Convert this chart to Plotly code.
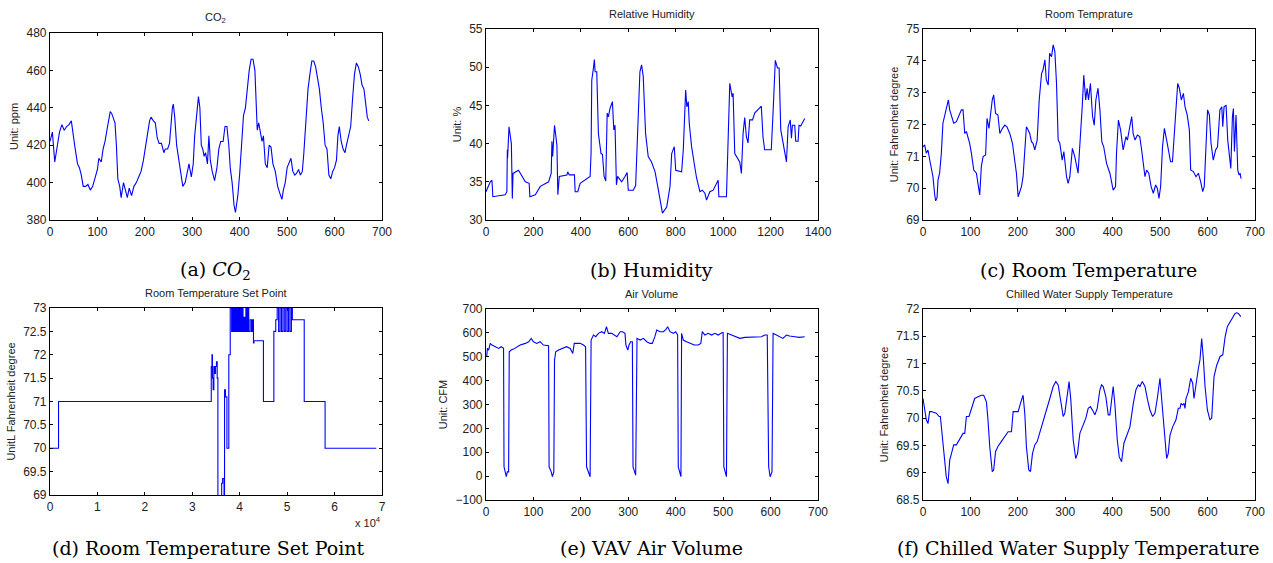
import plotly.graph_objects as go

W, H = 1273, 563
BLUE = '#0000ff'
SANS = 'Liberation Sans, Arial, sans-serif'
SERIF = 'DejaVu Serif, serif'

# (a) CO2
co2_t = [0, 5, 10, 15, 20, 25, 30, 35, 40, 45, 48, 52, 55, 58, 62, 66, 70, 75, 80, 85, 90, 95,
         100, 103, 108, 112, 116, 120, 124, 127, 130, 134, 137, 140, 143, 147, 150, 155, 160,
         163, 167, 172, 177, 182, 187, 192, 197, 200, 205, 210, 213, 218, 222, 226, 230, 235,
         240, 243, 248, 252, 255, 258, 260, 263, 267, 272, 276, 280, 285, 290, 293, 298, 302,
         305, 309, 313, 316, 319, 322, 325, 328, 332, 335, 338, 342, 347, 352, 356, 360, 365,
         369, 373, 377, 380, 384, 388, 391, 396, 400, 404, 408, 412, 416, 420, 424, 428, 432,
         434, 437, 440, 443, 447, 450, 454, 458, 462, 466, 470, 475, 480, 485, 489, 492, 496,
         500, 505, 508, 512, 516, 520, 524, 528, 532, 535, 540, 544, 548, 552, 556, 560, 564,
         568, 572, 576, 580, 584, 588, 592, 596, 600, 604, 607, 610, 614, 618, 622, 625, 630,
         634, 638, 642, 646, 650, 654, 658, 662, 666, 669, 672]
co2_ppm = [422, 427, 411, 420, 427, 431, 428, 430, 431, 433, 426, 420, 415, 410, 408, 404, 398,
           398, 399, 396, 398, 403, 407, 413, 411, 418, 422, 428, 434, 438, 437, 434, 432, 420,
           402, 398, 392, 400, 395, 392, 397, 393, 398, 400, 403, 406, 412, 418, 425, 433, 435,
           433, 432, 424, 421, 421, 416, 418, 418, 421, 432, 440, 442, 435, 420, 412, 405, 398,
           400, 406, 410, 403, 410, 425, 438, 446, 440, 420, 418, 414, 416, 410, 425, 412, 406,
           401, 408, 418, 422, 422, 430, 430, 420, 408, 400, 388, 384, 393, 405, 420, 436, 440,
           450, 460, 466, 466, 460, 445, 428, 432, 428, 422, 425, 410, 408, 420, 419, 410, 406,
           398, 394, 391, 396, 400, 408, 411, 413, 406, 404, 405, 407, 404, 406, 415, 432, 450,
           458, 465, 465, 462, 456, 450, 440, 432, 420, 418, 404, 402, 406, 408, 412, 425, 430,
           422, 418, 416, 420, 425, 430, 445, 458, 464, 462, 458, 452, 450, 442, 435, 433]

# (b) relative humidity
rh_t = [0, 18, 25, 29, 81, 88, 90, 91, 97, 107, 111, 114, 137, 166, 182, 185, 208, 229, 264,
        275, 278, 281, 289, 299, 303, 309, 341, 345, 351, 373, 376, 387, 397, 418, 439, 443,
        446, 453, 457, 460, 467, 474, 485, 491, 498, 505, 511, 516, 523, 533, 539, 544, 550,
        555, 572, 586, 595, 600, 621, 631, 642, 649, 656, 663, 673, 684, 698, 713, 727, 736,
        744, 762, 776, 783, 794, 800, 825, 832, 842, 847, 853, 857, 867, 878, 888, 902, 912,
        923, 930, 944, 958, 979, 982, 1014, 1028, 1038, 1042, 1049, 1070, 1077, 1084, 1091,
        1098, 1105, 1112, 1124, 1133, 1161, 1168, 1175, 1203, 1211, 1220, 1229, 1236, 1243,
        1260, 1267, 1274, 1283, 1288, 1292, 1302, 1306, 1316, 1320, 1327, 1344]
rh_pct = [33.7, 35.0, 35.2, 33.05, 33.3, 33.7, 39.2, 38.1, 42.2, 40.0, 32.8, 36.1, 36.5, 35.0,
          34.8, 33.05, 33.3, 34.4, 35.0, 36.1, 40.3, 38.3, 42.4, 39.8, 33.3, 35.7, 35.9, 36.3,
          35.9, 35.9, 33.7, 33.7, 34.8, 35.2, 35.7, 38.7, 48.3, 49.9, 51.0, 49.4, 49.4, 41.3,
          38.7, 38.6, 35.7, 35.1, 44.0, 43.5, 44.6, 45.5, 41.8, 42.4, 34.6, 35.7, 35.0, 35.7,
          36.2, 33.9, 33.9, 34.5, 43.5, 49.4, 50.3, 48.8, 41.3, 38.3, 37.6, 36.3, 33.9, 32.0,
          30.9, 31.7, 34.4, 38.7, 39.6, 36.5, 36.3, 39.2, 47.0, 44.8, 45.5, 42.7, 39.6, 37.4,
          35.5, 33.7, 33.9, 33.5, 32.6, 33.7, 33.9, 35.2, 33.05, 33.05, 47.9, 46.1, 46.6, 38.7,
          37.6, 36.1, 41.3, 43.4, 40.9, 40.1, 43.1, 43.1, 44.0, 44.9, 40.9, 39.2, 39.2, 44.4,
          50.9, 49.9, 49.9, 41.8, 38.7, 37.6, 42.2, 43.1, 40.7, 42.4, 42.4, 40.3, 40.3, 42.4,
          42.3, 43.3]

# (c) room temperature
rt_t = [0, 3.5, 7, 10.5, 14, 17.6, 21, 24.6, 26.7, 29.6, 31.7, 35, 38.7, 42, 45.7, 49, 53.5,
        56.3, 60, 64.7, 70.4, 76, 81, 84.4, 88, 91.5, 98.5, 102, 107, 112.6, 116, 119.6, 123,
        126.7, 132, 135, 139, 142, 146, 149, 153, 158, 162, 167.5, 172.4, 177, 183, 188.6,
        193.5, 197, 200.6, 204, 207.6, 211, 214.6, 218, 221.7, 225, 228.7, 232, 235.7, 240.7,
        245, 250, 253, 257, 260, 264, 267, 271, 274.5, 278, 281.5, 285, 288.5, 293.5, 297,
        302.6, 306, 309.6, 315, 320, 327, 330.7, 335.7, 339, 343, 346, 349, 353, 357.5, 361,
        364.5, 369, 373, 377, 381, 387, 394, 401, 406, 408, 412, 416.6, 422, 428, 431, 436,
        440, 443, 447, 452, 457, 461, 464.5, 468, 471.5, 476, 481, 485.6, 490.5, 494, 497.5,
        501, 505, 509, 513.7, 518.6, 522, 526, 530, 533.4, 537, 540.5, 544.7, 549, 552.4, 557,
        561.6, 564.4, 570, 575.6, 580.6, 585.5, 589.7, 593, 596.7, 600, 603.8, 607.3, 612, 617,
        621, 626, 630, 632, 634.8, 639, 642.5, 646, 649, 652.4, 654.5, 656.6, 660, 663.6,
        666.4, 668.5, 670.6]
rt_deg = [71.3, 71.36, 71.1, 71.2, 70.9, 70.6, 70.36, 69.8, 69.6, 69.7, 70.26, 70.47, 71.1,
          72.04, 72.3, 72.56, 72.77, 72.46, 72.3, 72.04, 72.09, 72.3, 72.46, 72.46, 71.72,
          71.78, 71.4, 71.1, 70.57, 70.47, 70.2, 69.79, 70.68, 70.99, 71.04, 72.19, 71.88,
          72.3, 72.77, 72.93, 72.35, 72.3, 71.72, 71.88, 71.98, 71.93, 71.72, 71.41, 70.88,
          70.47, 69.73, 69.89, 70.05, 70.36, 71.09, 71.93, 71.83, 71.72, 71.46, 71.41, 71.2,
          71.51, 72.77, 73.6, 73.71, 74.03, 73.4, 73.24, 74.24, 74.13, 74.5, 74.29, 73.3, 71.51,
          71.41, 70.88, 71.15, 70.36, 70.15, 70.36, 71.25, 70.99, 70.47, 71.3, 72.56, 73.55,
          72.77, 73.14, 72.77, 73.29, 72.25, 71.98, 72.77, 73.14, 72.46, 71.46, 71.3, 70.78,
          70.47, 69.94, 70.05, 71.1, 72.14, 71.83, 71.2, 71.62, 71.51, 71.93, 72.25, 71.72,
          71.51, 71.67, 71.62, 71.2, 70.68, 70.36, 70.57, 70.47, 70.05, 69.84, 70.1, 70.0,
          69.68, 70.05, 71.3, 71.88, 71.51, 71.1, 70.83, 70.83, 71.72, 72.56, 73.29, 73.14,
          72.77, 72.98, 72.56, 72.3, 71.83, 70.57, 70.52, 70.36, 70.47, 70.2, 69.89, 70.05,
          71.15, 72.46, 72.3, 71.41, 70.88, 71.2, 71.3, 72.46, 72.56, 71.93, 72.56, 72.6,
          71.51, 70.99, 70.62, 72.25, 72.5, 71.15, 72.3, 70.57, 70.41, 70.47, 70.3]

# (d) room temperature set point (step changes)
sp_t = [0, 1800, 34000, 34150, 34250, 34400, 34550, 34700, 34900, 35100, 35250, 35400,
        36200, 36400, 36700, 36800, 37000, 37300, 37700, 38000, 38300, 38500, 38700, 38900,
        39100, 39300, 39500, 39700, 39900, 40100, 40300, 40500, 40700, 40900, 41100, 41300,
        41500, 41700, 41900, 42200, 42500, 42700, 42900, 43000, 45000, 47200, 47600, 47900,
        48200, 48500, 48800, 49100, 49400, 49700, 50000, 50300, 50600, 50900, 51100, 53600,
        58000, 68800]
sp_deg = [70, 71, 71.75, 72, 71.5, 71.25, 71.75, 71.6, 71.75, 71.85, 71.5, 68.5,
          69.25, 69.35, 68.5, 71.25, 71.1, 70, 72, 73, 72.5, 73, 72.5, 73,
          72.5, 73, 72.5, 73, 72.5, 73, 72.5, 73, 72.5, 72.8, 72.5, 73,
          72.5, 73, 72.5, 72.75, 72.5, 72.75, 72.25, 72.3, 71, 72.5, 72.75, 73,
          72.5, 73, 72.5, 73, 72.5, 73, 72.5, 73, 72.5, 73, 72.75, 71,
          70, 70]

# (e) VAV air volume
av_t = [1.4, 3, 5.6, 9, 12.6, 19.6, 26.7, 32, 37, 38, 40.7, 42.8, 45, 47.7, 49, 53, 58, 65,
        72, 83, 90, 95.4, 100, 107, 114, 121, 128, 132, 133, 137.5, 140, 143, 144.5, 147, 153,
        163, 170, 177.5, 183, 186, 193.6, 198.5, 205.5, 210, 212, 216, 219.5, 221.6, 226.5,
        231.5, 237, 244, 249.7, 254, 258, 265, 271, 276, 283, 288, 293, 295, 299, 301.6, 305,
        308.6, 310, 313, 315.6, 318.4, 325, 332, 339, 346, 350.7, 356, 360, 367, 374, 379.5,
        383, 388, 395, 400, 404, 405.4, 407.5, 411, 412.4, 416, 423, 430, 439, 447.5, 453, 456,
        461.5, 468.5, 475.6, 482.6, 489.6, 498, 500, 501.5, 505, 507, 509, 517.6, 524.7, 535,
        546, 556, 566.7, 580.8, 587.8, 593, 596, 599, 603, 605.3, 612.3, 619.3, 626, 633.4,
        640, 651, 661, 672]
av_cfm = [500, 535, 528, 556, 549, 542, 535, 542, 535, 39, 18, -2.5, 18, 18, 521, 528, 532,
          542, 549, 556, 563, 577, 563, 556, 563, 549, 549, 546, 39, 18, -2.5, 18, 486, 521,
          528, 535, 542, 535, 514, 556, 556, 556, 549, 542, 39, 11, -2.5, 570, 591, 584, 598,
          605, 598, 626, 598, 598, 591, 584, 605, 605, 598, 549, 528, 549, 563, 563, 39, 18, 4,
          577, 570, 577, 563, 556, 556, 584, 612, 605, 605, 615, 626, 605, 598, 605, 591, 39,
          18, -2.5, 598, 570, 563, 556, 549, 549, 556, 605, 591, 598, 591, 598, 591, 601, 601,
          39, 18, -2.5, 598, 591, 584, 577, 581, 581, 584, 584, 591, 591, 39, -2.5, 18, 598,
          591, 584, 577, 591, 587, 584, 581, 584]

# (f) chilled water supply temperature
cw_t = [0, 3.5, 7, 10.5, 14, 17.6, 28, 34, 36.6, 40.8, 45.7, 49, 52.8, 56.3, 60, 64.7, 70.4,
        77.4, 84.4, 88, 91.5, 97, 102, 109, 116, 123, 128, 133.7, 137, 140.7, 146, 149, 153,
        158, 165, 172.4, 179.5, 186.5, 190, 197, 200.6, 205.5, 211, 214.6, 218, 223, 226.6,
        230.8, 235.7, 240.7, 246, 254.8, 262, 267.4, 274.5, 280, 285, 290, 295.6, 299, 304,
        308, 311.7, 316.7, 322, 325.8, 330.7, 337.8, 343.4, 348.3, 353, 359, 362.4, 367.4,
        373, 376.5, 380, 385.6, 390.6, 394, 397.6, 401, 404.7, 409.6, 413.8, 418.7, 423.6,
        429.3, 436.3, 443.4, 449, 454, 457.4, 462.4, 468, 473.6, 478.5, 484, 489, 494, 499.6,
        504.6, 510, 513.7, 517, 520.8, 526.4, 533.4, 538.3, 541.8, 544, 547.5, 550.3, 552.4,
        554.5, 559.5, 564.4, 568.6, 571.4, 575.6, 580.6, 584, 587.6, 591, 594.7, 599.6, 605,
        608.7, 613.6, 619.3, 626.3, 632, 637, 641.8, 646, 651, 654.5, 658, 661.5, 665, 670]
cw_deg = [70.36, 70.12, 69.97, 69.9, 70.12, 70.12, 70.09, 70.03, 70.03, 69.66, 69.17, 68.93,
          68.8, 69.23, 69.35, 69.51, 69.51, 69.63, 69.72, 69.72, 70.03, 70.03, 70.18, 70.36,
          70.39, 70.42, 70.42, 70.3, 69.97, 69.48, 69.02, 69.05, 69.39, 69.48, 69.57, 69.66,
          69.75, 69.75, 70.12, 70.12, 70.12, 70.27, 70.42, 70.09, 69.48, 69.05, 69.02, 69.35,
          69.51, 69.57, 69.72, 70.0, 70.18, 70.36, 70.58, 70.67, 70.61, 70.33, 70.03, 70.09,
          70.48, 70.67, 70.33, 69.6, 69.26, 69.35, 69.72, 69.9, 70.0, 70.18, 70.21, 70.12,
          70.06, 70.18, 70.52, 70.61, 70.58, 70.39, 70.06, 70.06, 70.33, 70.58, 70.24, 69.6,
          69.29, 69.2, 69.54, 69.69, 69.84, 70.27, 70.52, 70.61, 70.58, 70.67, 70.58, 70.33,
          70.15, 70.03, 70.09, 70.36, 70.73, 70.21, 69.54, 69.26, 69.35, 69.69, 69.84, 69.97,
          70.18, 70.18, 70.27, 70.24, 70.27, 70.18, 70.36, 70.48, 70.73, 70.64, 70.36, 70.64,
          70.91, 71.07, 71.46, 71.1, 70.58, 70.15, 69.97, 70.0, 70.76, 70.97, 71.13, 71.16,
          71.49, 71.68, 71.74, 71.8, 71.86, 71.92, 71.93, 71.92, 71.86]


def px_x(a, b):
    return [a / W, b / W]


def px_y(top, bottom):
    return [1 - bottom / H, 1 - top / H]


panels = [
    # x data, y data, title, y label, x range, x dtick, y range, y dtick, x px, y px, shape
    (co2_t, co2_ppm, 'CO<sub>2</sub>', 'Unit: ppm', [0, 700], 100, [380, 480], 20,
     (50, 382), (33, 220), 'linear'),
    (rh_t, rh_pct, 'Relative Humidity', 'Unit: %', [0, 1400], 200, [30, 55], 5,
     (486, 818), (29, 220), 'linear'),
    (rt_t, rt_deg, 'Room Temprature', 'Unit: Fahrenheit degree', [0, 700], 100, [69, 75], 1,
     (923, 1255), (29, 220), 'linear'),
    (sp_t, sp_deg, 'Room Temperature Set Point', 'UnitL Fahrenheit degree', [0, 70000], 10000,
     [69, 73], 0.5, (50, 382), (308, 495), 'hv'),
    (av_t, av_cfm, 'Air Volume', 'Unit: CFM', [0, 700], 100, [-100, 700], 100,
     (486, 818), (309, 500), 'linear'),
    (cw_t, cw_deg, 'Chilled Water Supply Temperature', 'Unit: Fahrenheit degree', [0, 700], 100,
     [68.5, 72], 0.5, (923, 1255), (309, 500), 'linear'),
]

fig = go.Figure()
annotations = []
for i, (xs, ys, title, ylab, xr, xd, yr, yd, xpx, ypx, shape) in enumerate(panels):
    n = '' if i == 0 else str(i + 1)
    fig.add_trace(go.Scatter(x=xs, y=ys, mode='lines', xaxis='x' + n, yaxis='y' + n,
                             line=dict(color=BLUE, width=1.1, shape=shape),
                             showlegend=False, hoverinfo='skip'))
    axis_common = dict(showline=True, linecolor='black', linewidth=1.2, mirror='ticks',
                       ticks='inside', ticklen=3, tickcolor='black', showgrid=False,
                       zeroline=False, automargin=False,
                       tickfont=dict(family=SANS, size=12, color='#222'))
    xax = dict(axis_common, domain=px_x(*xpx), range=xr, dtick=xd, anchor='y' + n)
    if i == 3:
        xax.update(tickmode='array', tickvals=[k * 10000 for k in range(8)],
                   ticktext=[str(k) for k in range(8)])
    yax = dict(axis_common, domain=px_y(*ypx), range=yr, dtick=yd, anchor='x' + n,
               title=dict(text=ylab, font=dict(family=SANS, size=11, color='#222'), standoff=5))
    fig.update_layout({'xaxis' + n: xax, 'yaxis' + n: yax})
    annotations.append(dict(text=title, x=(xpx[0] + xpx[1]) / 2 / W, y=1 - (ypx[0] - 15) / H,
                            xref='paper', yref='paper', xanchor='center', yanchor='middle',
                            showarrow=False, font=dict(family=SANS, size=11, color='#222')))

captions = ['(a) <i>CO</i><sub>2</sub>', '(b) Humidity', '(c) Room Temperature',
            '(d) Room Temperature Set Point', '(e) VAV Air Volume',
            '(f) Chilled Water Supply Temperature']
cap_x = [215, 652, 1088, 208, 652, 1078]
cap_y = [270, 270, 270, 548, 548, 548]
for txt, cx, cy in zip(captions, cap_x, cap_y):
    annotations.append(dict(text=txt, x=cx / W, y=1 - cy / H, xref='paper', yref='paper',
                            xanchor='center', yanchor='middle', showarrow=False,
                            font=dict(family=SERIF, size=19, color='black')))

annotations.append(dict(text='x 10<sup>4</sup>', x=383 / W, y=1 - 522 / H, xref='paper',
                        yref='paper', xanchor='right', yanchor='middle', showarrow=False,
                        font=dict(family=SANS, size=11, color='#222')))

fig.update_layout(width=W, height=H, margin=dict(l=0, r=0, t=0, b=0), template='none',
                  paper_bgcolor='white', plot_bgcolor='white', annotations=annotations)

fig.write_html("out.html", config={'displayModeBar': False},
               post_script="document.body.style.margin = '0';")
